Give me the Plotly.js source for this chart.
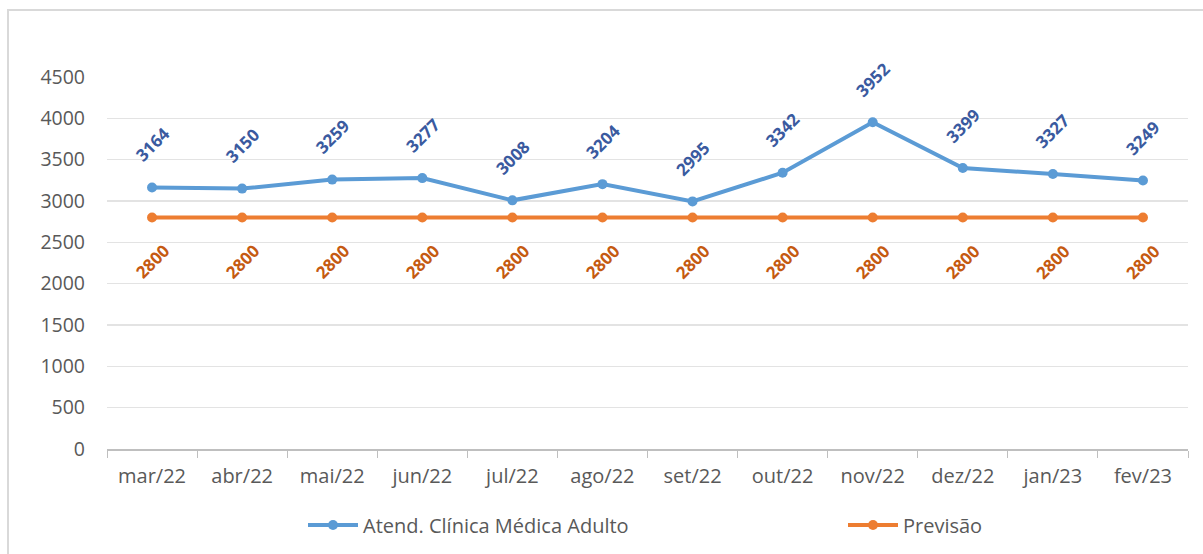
<!DOCTYPE html>
<html>
<head>
<meta charset="utf-8">
<script src="https://cdn.plot.ly/plotly-3.0.1.min.js"></script>
<style>
  html, body { margin: 0; padding: 0; background: #fff; }
  #wrap { position: relative; width: 1203px; height: 554px; }
  #chart { position: absolute; left: 0; top: 0; width: 1203px; height: 554px; }
  #frame { position: absolute; left: 7px; top: 9px; width: 1196px; height: 545px;
           border-top: 2px solid #d9d9d9; border-left: 2px solid #d9d9d9; pointer-events: none; }
</style>
</head>
<body>
<div id="wrap">
  <div id="chart"></div>
  <div id="frame"></div>
</div>
<script>
const months = ["mar/22","abr/22","mai/22","jun/22","jul/22","ago/22","set/22","out/22","nov/22","dez/22","jan/23","fev/23"];
const atendimentos = [3164, 3150, 3259, 3277, 3008, 3204, 2995, 3342, 3952, 3399, 3327, 3249];
const previsao = [2800, 2800, 2800, 2800, 2800, 2800, 2800, 2800, 2800, 2800, 2800, 2800];
const seriesNames = ["Atend. Clínica Médica Adulto", "Previsão"];

const FONT = "Open Sans, Noto Sans, sans-serif";
const blue = "#5b9bd5", orange = "#ed7d31";

const traces = [
  { x: months, y: atendimentos, name: seriesNames[0], type: "scatter", mode: "lines+markers",
    line: { color: blue, width: 4 }, marker: { color: blue, size: 10 }, legend: "legend" },
  { x: months, y: previsao, name: seriesNames[1], type: "scatter", mode: "lines+markers",
    line: { color: orange, width: 4 }, marker: { color: orange, size: 10 }, legend: "legend2" }
];

const annotations = [];
months.forEach((m, i) => {
  annotations.push({ x: m, y: atendimentos[i], xref: "x", yref: "y", text: String(atendimentos[i]),
    showarrow: false, textangle: -45, yshift: 43,
    font: { family: FONT, size: 17, color: "#3a5a9f", weight: "bold" } });
  annotations.push({ x: m, y: previsao[i], xref: "x", yref: "y", text: String(previsao[i]),
    showarrow: false, textangle: -45, yshift: -44,
    font: { family: FONT, size: 17, color: "#c55a11", weight: "bold" } });
});

const legFont = { family: FONT, size: 20, color: "#595959" };
const layout = {
  width: 1203, height: 554,
  margin: { l: 107, r: 15, t: 77, b: 105, autoexpand: false },
  paper_bgcolor: "#fff", plot_bgcolor: "#fff",
  font: { family: FONT, size: 19, color: "#595959" },
  showlegend: true,
  legend: { orientation: "h", xref: "container", x: 303/1203, xanchor: "left", itemwidth: 50,
            yref: "container", y: 29/554, yanchor: "middle", font: legFont, bgcolor: "rgba(0,0,0,0)" },
  legend2: { orientation: "h", xref: "container", x: 843/1203, xanchor: "left", itemwidth: 50,
             yref: "container", y: 29/554, yanchor: "middle", font: legFont, bgcolor: "rgba(0,0,0,0)" },
  xaxis: { type: "category", range: [-0.5, months.length - 0.5], showgrid: false, showline: true,
           linecolor: "#bfbfbf", linewidth: 1.5,
           ticks: "outside", ticklen: 7, tickcolor: "#bfbfbf", tickson: "boundaries", ticklabelstandoff: 8,
           tickfont: { family: FONT, size: 20, color: "#595959" }, fixedrange: true, zeroline: false },
  yaxis: { range: [0, 4500], dtick: 500, showgrid: true, gridcolor: "#e3e3e3", gridwidth: 1.5,
           zeroline: false, showline: false, ticks: "", ticklabelstandoff: 21,
           tickfont: { family: FONT, size: 19.5, color: "#595959" }, fixedrange: true },
  annotations: annotations
};

Plotly.newPlot("chart", traces, layout, { staticPlot: true, displayModeBar: false });
</script>
</body>
</html>
